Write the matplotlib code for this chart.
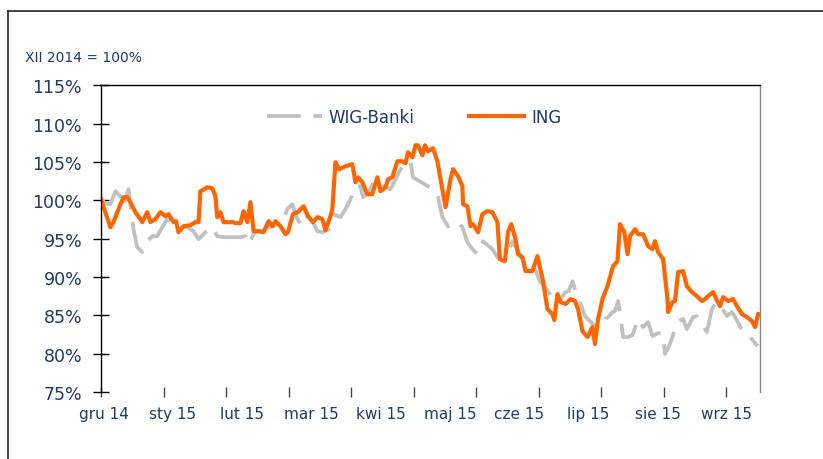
import matplotlib
matplotlib.use('Agg')
import matplotlib.pyplot as plt
from matplotlib.lines import Line2D
import numpy as np

# months since 1 Dec 2014, index XII 2014 = 100%
ing_x = [0.00, 0.08, 0.15, 0.20, 0.28, 0.36, 0.42, 0.47, 0.55, 0.63, 0.66, 0.74, 0.79, 0.87, 0.95,
         1.03, 1.08, 1.16, 1.20, 1.24, 1.32, 1.43, 1.51, 1.56, 1.59, 1.65, 1.70, 1.78, 1.83, 1.86,
         1.91, 1.96, 2.04, 2.10, 2.16, 2.23, 2.28, 2.34, 2.39, 2.44, 2.52, 2.60, 2.68, 2.74, 2.79,
         2.87, 2.95, 2.99, 3.07, 3.15, 3.24, 3.31, 3.39, 3.46, 3.54, 3.59, 3.67, 3.70, 3.75, 3.81,
         3.91, 4.02, 4.07, 4.11, 4.18, 4.26, 4.34, 4.42, 4.47, 4.55, 4.59, 4.66, 4.74, 4.82, 4.87,
         4.91, 4.98, 5.03, 5.07, 5.14, 5.18, 5.23, 5.31, 5.38, 5.46, 5.51, 5.59, 5.63, 5.71, 5.78,
         5.79, 5.86, 5.91, 5.95, 6.03, 6.10, 6.18, 6.26, 6.34, 6.38, 6.46, 6.51, 6.56, 6.63, 6.67,
         6.74, 6.79, 6.90, 6.98, 7.02, 7.07, 7.14, 7.22, 7.25, 7.30, 7.35, 7.43, 7.51, 7.58, 7.63,
         7.70, 7.78, 7.86, 7.90, 7.95, 8.02, 8.10, 8.19, 8.26, 8.30, 8.37, 8.42, 8.46, 8.54, 8.59,
         8.67, 8.75, 8.82, 8.86, 8.91, 8.99, 9.06, 9.07, 9.14, 9.18, 9.23, 9.31, 9.37, 9.45, 9.53,
         9.61, 9.66, 9.71, 9.79, 9.84, 9.90, 9.95, 10.03, 10.11, 10.17, 10.25, 10.33, 10.41, 10.46, 10.51]
ing = [100.13, 98.18, 96.48, 97.14, 98.83, 100.39, 100.39, 99.74, 98.44, 97.53, 97.14, 98.44, 97.14, 97.53, 98.44,
       97.92, 98.18, 97.14, 97.27, 95.83, 96.61, 96.74, 97.14, 97.14, 101.17, 101.43, 101.69, 101.56, 100.52, 97.79,
       98.44, 97.14, 97.14, 97.14, 97.01, 97.01, 98.57, 97.14, 99.74, 95.96, 95.96, 95.83, 97.27, 96.61, 97.27,
       96.61, 95.57, 95.83, 98.18, 98.44, 99.22, 97.92, 97.14, 97.79, 97.53, 96.09, 97.92, 98.83, 104.95, 104.04,
       104.43, 104.69, 102.34, 102.99, 102.34, 100.78, 100.78, 102.99, 101.17, 101.69, 102.73, 102.99, 105.08, 105.08, 104.82,
       106.25, 105.60, 107.16, 107.16, 105.86, 107.16, 106.38, 106.77, 105.08, 101.43, 99.09, 102.73, 104.04, 103.13, 101.82,
       99.48, 99.22, 96.61, 96.88, 95.83, 98.18, 98.57, 98.44, 97.14, 92.32, 92.06, 95.83, 96.88, 94.92, 92.97,
       92.58, 90.76, 90.76, 92.71, 91.28, 89.45, 85.81, 85.16, 84.38, 87.76, 86.72, 86.46, 87.11, 86.85, 85.81,
       82.94, 82.16, 83.46, 81.25, 84.51, 87.11, 88.80, 91.41, 92.06, 96.88, 95.83, 92.97, 95.31, 96.22, 95.57,
       95.57, 94.01, 93.62, 94.66, 93.23, 92.32, 87.11, 85.42, 86.72, 86.85, 90.63, 90.76, 88.80, 88.02, 87.50,
       86.85, 87.11, 87.50, 88.02, 87.11, 86.20, 87.37, 86.85, 87.11, 86.20, 85.16, 84.77, 84.24, 83.46, 85.16]

wig_x = [0.00, 0.07, 0.15, 0.23, 0.31, 0.36, 0.44, 0.52, 0.58, 0.66, 0.74, 0.82, 0.90, 0.98, 1.06,
         1.16, 1.27, 1.38, 1.48, 1.56, 1.67, 1.78, 1.86, 1.96, 2.12, 2.23, 2.31, 2.36, 2.47, 2.58,
         2.68, 2.76, 2.82, 2.90, 2.98, 3.06, 3.14, 3.22, 3.30, 3.38, 3.46, 3.54, 3.64, 3.72, 3.83,
         3.91, 3.99, 4.07, 4.15, 4.19, 4.28, 4.35, 4.44, 4.51, 4.63, 4.71, 4.79, 4.87, 4.95, 4.99,
         5.07, 5.15, 5.23, 5.31, 5.39, 5.46, 5.55, 5.66, 5.71, 5.78, 5.86, 5.94, 6.02, 6.11, 6.18,
         6.26, 6.34, 6.42, 6.50, 6.58, 6.63, 6.70, 6.79, 6.90, 6.94, 7.02, 7.10, 7.18, 7.27, 7.35,
         7.43, 7.48, 7.54, 7.58, 7.66, 7.74, 7.82, 7.87, 7.95, 8.02, 8.06, 8.11, 8.18, 8.22, 8.27,
         8.30, 8.35, 8.43, 8.50, 8.59, 8.67, 8.75, 8.82, 8.91, 8.99, 9.02, 9.10, 9.18, 9.23, 9.31,
         9.37, 9.47, 9.53, 9.61, 9.69, 9.77, 9.84, 9.90, 10.01, 10.09, 10.16, 10.24, 10.30, 10.38, 10.50]
wig = [100.13, 99.61, 99.48, 101.17, 100.52, 99.22, 101.43, 96.22, 93.88, 93.23, 94.66, 95.31, 95.31, 96.48, 97.53,
       97.14, 96.61, 96.48, 95.96, 94.92, 95.83, 96.48, 95.31, 95.18, 95.18, 95.18, 95.31, 94.27, 95.96, 95.96,
       96.48, 96.61, 96.88, 97.14, 98.83, 99.48, 97.53, 96.61, 97.92, 97.27, 95.96, 95.83, 96.22, 98.18, 97.79,
       98.83, 100.13, 101.82, 101.82, 100.39, 101.04, 102.08, 101.04, 101.82, 101.43, 102.73, 104.04, 105.08, 104.95, 102.99,
       102.60, 102.21, 101.82, 101.56, 100.39, 97.79, 96.61, 96.88, 97.14, 96.48, 94.53, 93.62, 92.97, 94.66, 94.14,
       93.62, 92.58, 92.06, 92.97, 94.66, 93.88, 92.97, 91.41, 91.93, 91.02, 89.45, 88.67, 87.76, 86.72, 87.11,
       88.02, 88.15, 89.45, 88.41, 86.72, 84.90, 84.24, 83.85, 83.20, 83.59, 84.51, 84.77, 85.42, 85.55, 86.85,
       85.42, 82.16, 82.16, 82.42, 84.51, 83.46, 84.11, 82.29, 82.68, 82.55, 79.95, 81.25, 83.20, 84.24, 84.51,
       83.20, 84.77, 84.90, 83.85, 82.81, 85.81, 86.72, 86.33, 84.90, 85.42, 84.51, 83.20, 82.55, 82.16, 80.99]

month_labels = ['gru 14', 'sty 15', 'lut 15', 'mar 15', 'kwi 15', 'maj 15', 'cze 15', 'lip 15', 'sie 15', 'wrz 15']
y_ticks = [75, 80, 85, 90, 95, 100, 105, 110, 115]

navy = '#1F3A63'
plt.rcParams['font.family'] = ['DejaVu Sans']

fig = plt.figure(figsize=(8.23, 4.6), dpi=100)
ax = fig.add_axes([0.1227, 0.1457, 0.8008, 0.667])

ax.plot(wig_x, wig, color='#C0C0C0', lw=2.7, dashes=(9, 3.4), label='WIG-Banki', solid_joinstyle='round')
ax.plot(ing_x, ing, color='#FF6600', lw=3.0, label='ING', solid_joinstyle='round')

ax.set_xlim(0, 10.54)
ax.set_ylim(75, 115)
ax.set_yticks(y_ticks)
ax.set_yticklabels([f'{v}%' for v in y_ticks])
ax.set_xticks(np.arange(0, 11))
ax.set_xticklabels([])
ax.set_xticks(np.linspace(0.04, 10.01, len(month_labels)), minor=True)
ax.set_xticklabels(month_labels, minor=True)

ax.tick_params(axis='y', direction='inout', length=11, width=1, pad=8,
               labelsize=12.5, labelcolor=navy, color='black')
ax.tick_params(axis='x', which='major', direction='inout', length=7, width=1, color='#444444')
ax.tick_params(axis='x', which='minor', length=0, pad=10, labelsize=11, labelcolor=navy)

ax.spines['bottom'].set_visible(False)
ax.spines['left'].set_color('black')
ax.spines['top'].set_color('black')
ax.spines['right'].set_color('#888888')
for s in ax.spines.values():
    s.set_linewidth(1)

ax.legend(loc='center', bbox_to_anchor=(0.475, 0.896), ncol=2, frameon=False,
          fontsize=12, handlelength=3.3, handletextpad=0.4, columnspacing=3.3,
          labelcolor=navy)

fig.text(0.03, 0.874, 'XII 2014 = 100%', fontsize=10, color=navy, va='center', ha='left')

# outer frame
fig.add_artist(Line2D([0.0097, 1.0], [0.974, 0.974], color='#222222', lw=1.2))
fig.add_artist(Line2D([0.0097, 0.0097], [0.0, 0.974], color='#222222', lw=1.2))

fig.savefig('out.png', dpi=100)
